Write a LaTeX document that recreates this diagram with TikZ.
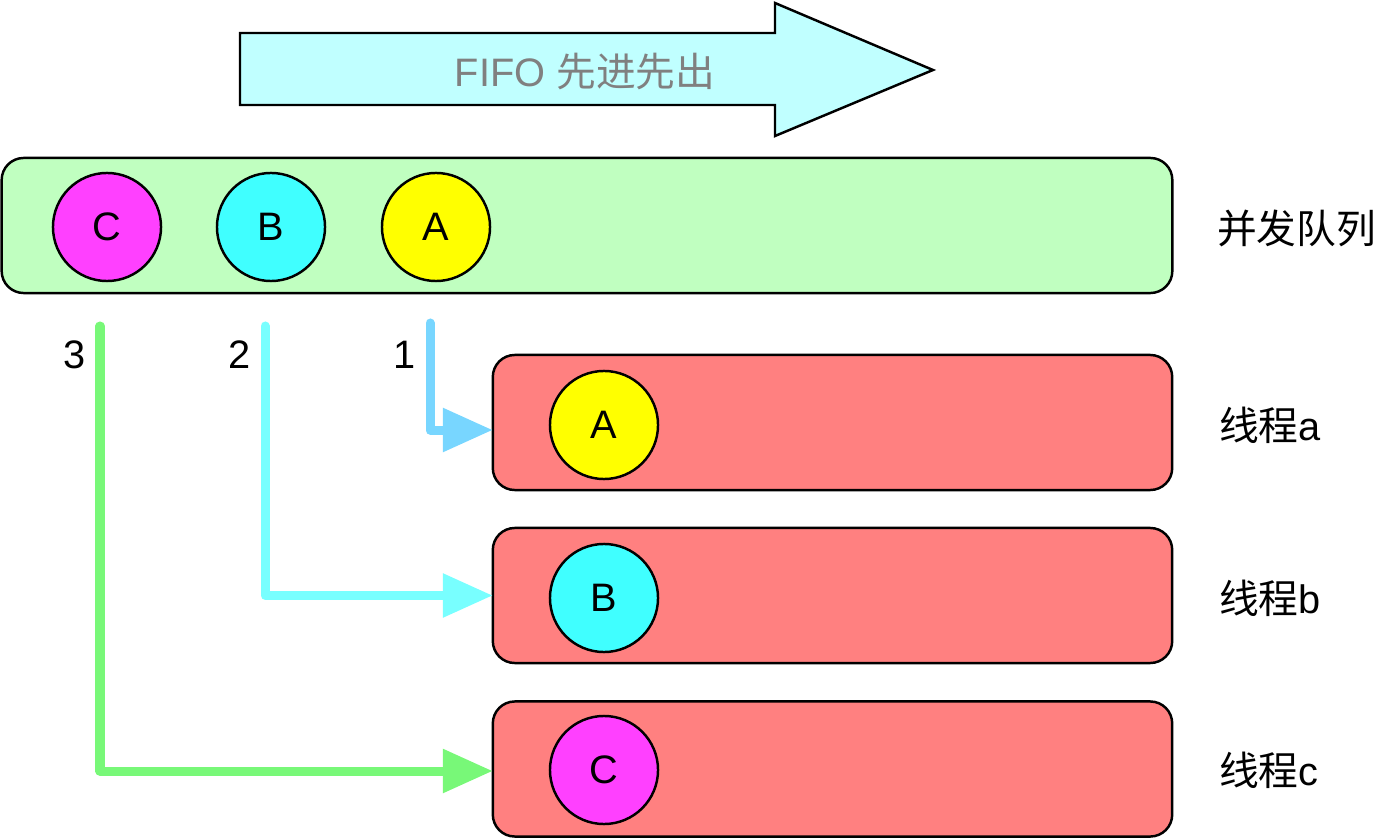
\documentclass[tikz,border=0pt]{standalone}
\usepackage{fontspec}
\setmainfont{Liberation Sans}
\newfontfamily\cjk{Noto Sans CJK SC}
\usetikzlibrary{arrows.meta}
\definecolor{fifofill}{HTML}{C0FFFF}
\definecolor{queuefill}{HTML}{C0FFC0}
\definecolor{threadfill}{HTML}{FF8080}
\definecolor{taskA}{HTML}{FFFF00}
\definecolor{taskB}{HTML}{40FFFF}
\definecolor{taskC}{HTML}{FF40FF}
\definecolor{flowA}{HTML}{78D6FF}
\definecolor{flowB}{HTML}{78FFFF}
\definecolor{flowC}{HTML}{78F878}
\begin{document}
\begin{tikzpicture}[x=0.01cm,y=-0.01cm,inner sep=0pt,outer sep=0pt,line width=0.7pt,
font=\fontsize{11.3}{13.5}\selectfont,
queuebox/.style={draw,rectangle,rounded corners=0.22cm,fill=queuefill,minimum width=11.7cm,minimum height=1.35cm},
threadbox/.style={draw,rectangle,rounded corners=0.22cm,fill=threadfill,minimum width=6.79cm,minimum height=1.35cm},
task/.style={draw,circle,minimum size=1.08cm},
flow/.style={line width=0.09cm,line cap=round,line join=round,-{Triangle[length=0.5cm,width=0.42cm]}}]
\useasboundingbox (0,0) rectangle (1394,840);
% FIFO arrow
\draw[fill=fifofill] (240,33) -- (775,33) -- (775,3) -- (933,70) -- (775,136) -- (775,105) -- (240,105) -- cycle;
\draw (585,72) node[text=black!50] (fifo) {FIFO {\cjk 先进先出}};
% queue
\draw (587,225.5) node[queuebox] (queue) {};
\draw (107,227) node[task,fill=taskC] (qC) {C};
\draw (271,227) node[task,fill=taskB] (qB) {B};
\draw (436,227) node[task,fill=taskA] (qA) {A};
\draw (1217,228) node[anchor=west] (lq) {\cjk 并发队列};
% threads
\draw (832.5,422.5) node[threadbox] (ta) {};
\draw (832.5,595.5) node[threadbox] (tb) {};
\draw (832.5,769) node[threadbox] (tc) {};
\draw (604,425) node[task,fill=taskA] (tA) {A};
\draw (604,598) node[task,fill=taskB] (tB) {B};
\draw (604,770) node[task,fill=taskC] (tC) {C};
\draw (1219,425) node[anchor=west] (la) {{\cjk 线程}a};
\draw (1219,598) node[anchor=west] (lb) {{\cjk 线程}b};
\draw (1219,770) node[anchor=west] (lc) {{\cjk 线程}c};
% dispatch
\coordinate (s1) at (430,323);
\coordinate (s2) at (265,326);
\coordinate (s3) at (100,326);
\draw (405,355) node (n1) {1};
\draw (240,355) node (n2) {2};
\draw (75,355) node (n3) {3};
\draw[flow,flowA] (s1) |- ([yshift=-0.075cm]ta.west);
\draw[flow,flowB] (s2) |- (tb.west);
\draw[flow,flowC] (s3) |- ([yshift=-0.02cm]tc.west);
\end{tikzpicture}
\end{document}
